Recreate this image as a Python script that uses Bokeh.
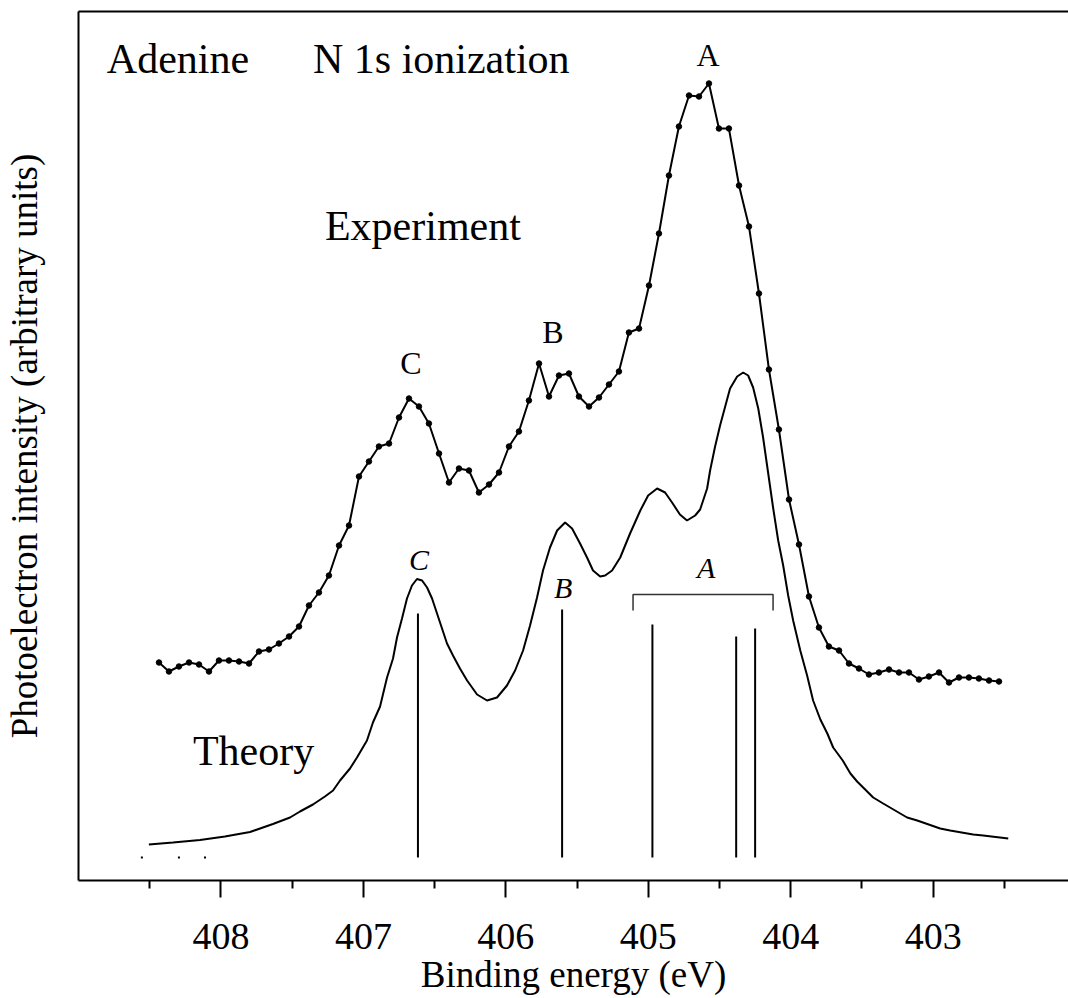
from bokeh.plotting import figure
from bokeh.models import Range1d, FixedTicker, Label, LinearAxis
from bokeh.embed import file_html
from bokeh.resources import INLINE

# ---------------- data ----------------
exp_energy = [408.435, 408.365, 408.295, 408.224, 408.154, 408.084, 408.014, 407.944, 407.873, 407.803,
              407.733, 407.663, 407.593, 407.522, 407.452, 407.382, 407.312, 407.242, 407.171, 407.101,
              407.031, 406.961, 406.891, 406.820, 406.750, 406.680, 406.610, 406.540, 406.469, 406.399,
              406.329, 406.259, 406.189, 406.118, 406.048, 405.978, 405.908, 405.838, 405.767, 405.697,
              405.627, 405.557, 405.487, 405.416, 405.346, 405.276, 405.206, 405.136, 405.065, 404.995,
              404.925, 404.855, 404.785, 404.714, 404.644, 404.574, 404.504, 404.434, 404.363, 404.293,
              404.223, 404.153, 404.083, 404.012, 403.942, 403.872, 403.802, 403.732, 403.661, 403.591,
              403.521, 403.451, 403.381, 403.310, 403.240, 403.170, 403.100, 403.030, 402.959, 402.889,
              402.819, 402.749, 402.679, 402.608, 402.538]
exp_intensity = [2.18, 2.09, 2.14, 2.18, 2.16, 2.09, 2.20, 2.20, 2.19, 2.17,
                 2.29, 2.31, 2.37, 2.44, 2.54, 2.75, 2.88, 3.05, 3.35, 3.55,
                 4.04, 4.19, 4.34, 4.37, 4.63, 4.82, 4.74, 4.57, 4.27, 3.98,
                 4.12, 4.10, 3.88, 3.96, 4.08, 4.34, 4.49, 4.80, 5.17, 4.84,
                 5.05, 5.07, 4.84, 4.74, 4.83, 4.96, 5.09, 5.48, 5.52, 5.95,
                 6.47, 7.05, 7.54, 7.85, 7.84, 7.97, 7.52, 7.52, 6.95, 6.54,
                 5.87, 5.11, 4.51, 3.81, 3.36, 2.84, 2.53, 2.34, 2.30, 2.17,
                 2.12, 2.06, 2.08, 2.11, 2.08, 2.08, 2.01, 2.04, 2.08, 1.98,
                 2.03, 2.03, 2.02, 2.00, 1.99]

theory_energy = [408.506, 408.337, 408.147, 407.972, 407.796, 407.635, 407.515, 407.445, 407.354, 407.270,
                 407.213, 407.164, 407.094, 407.045, 406.975, 406.933, 406.883, 406.834, 406.792, 406.764,
                 406.729, 406.694, 406.659, 406.624, 406.588, 406.553, 406.518, 406.483, 406.448, 406.413,
                 406.371, 406.322, 406.272, 406.202, 406.132, 406.062, 405.992, 405.935, 405.879, 405.830,
                 405.781, 405.739, 405.690, 405.640, 405.584, 405.535, 405.479, 405.430, 405.388, 405.338,
                 405.303, 405.254, 405.197, 405.128, 405.056, 405.001, 404.938, 404.882, 404.833, 404.778,
                 404.728, 404.671, 404.636, 404.587, 404.566, 404.531, 404.496, 404.426, 404.376, 404.334,
                 404.299, 404.264, 404.228, 404.194, 404.159, 404.124, 404.088, 404.053, 404.018, 403.983,
                 403.933, 403.885, 403.843, 403.792, 403.743, 403.702, 403.635, 403.581, 403.534, 403.421,
                 403.351, 403.183, 403.112, 402.951, 402.881, 402.719, 402.649, 402.473]
theory_intensity = [0.36, 0.38, 0.405, 0.44, 0.485, 0.565, 0.63, 0.69, 0.76, 0.84,
                    0.90, 1.00, 1.12, 1.23, 1.40, 1.58, 1.74, 2.03, 2.22, 2.43,
                    2.62, 2.82, 2.95, 3.015, 3.00, 2.93, 2.82, 2.67, 2.52, 2.37,
                    2.25, 2.12, 2.00, 1.86, 1.80, 1.83, 1.95, 2.10, 2.30, 2.55,
                    2.83, 3.10, 3.33, 3.50, 3.58, 3.52, 3.37, 3.23, 3.10, 3.04,
                    3.05, 3.10, 3.23, 3.47, 3.70, 3.85, 3.92, 3.88, 3.78, 3.66,
                    3.60, 3.65, 3.71, 3.92, 4.10, 4.34, 4.55, 4.92, 5.04, 5.08,
                    5.05, 4.93, 4.72, 4.43, 4.08, 3.73, 3.40, 3.15, 2.85, 2.60,
                    2.30, 2.05, 1.80, 1.61, 1.47, 1.33, 1.20, 1.07, 0.99, 0.83,
                    0.77, 0.63, 0.60, 0.52, 0.50, 0.46, 0.45, 0.42]

stick_energy = [406.617, 405.605, 404.971, 404.383, 404.250]
stick_height = [2.67, 2.71, 2.56, 2.44, 2.52]
stick_base = 0.23

bracket_energy = [405.107, 404.124]
bracket_level = 2.86
bracket_tip = 2.70

speck_energy = [408.555, 408.295, 408.112]
speck_level = [0.23, 0.23, 0.23]

major_ticks = [408, 407, 406, 405, 404, 403]
minor_ticks = [408.5, 407.5, 406.5, 405.5, 404.5, 403.5, 402.5]

# ---------------- figure ----------------
FONT = "Liberation Serif"

p = figure(width=1068, height=998,
           x_range=Range1d(409.0, 402.05), y_range=Range1d(0, 8.69),
           output_backend="svg", toolbar_location=None,
           min_border_left=78, min_border_right=0, min_border_top=11, min_border_bottom=118)
p.background_fill_color = "white"
p.border_fill_color = "white"
p.xgrid.visible = False
p.ygrid.visible = False
p.outline_line_color = None

xa = p.xaxis[0]
xa.ticker = FixedTicker(ticks=major_ticks, minor_ticks=minor_ticks)
xa.axis_line_width = 2
xa.axis_line_color = "black"
xa.major_tick_line_width = 2
xa.minor_tick_line_width = 2
xa.major_tick_in = 0
xa.major_tick_out = 17
xa.minor_tick_in = 0
xa.minor_tick_out = 8
xa.major_label_text_font = FONT
xa.major_label_text_font_size = "38px"
xa.major_label_text_color = "black"
xa.major_label_standoff = 26
xa.axis_label = "Binding energy (eV)"
xa.axis_label_text_font = FONT
xa.axis_label_text_font_size = "37px"
xa.axis_label_text_font_style = "normal"
xa.axis_label_text_color = "black"
xa.axis_label_standoff = 2

ya = p.yaxis[0]
ya.ticker = FixedTicker(ticks=[])
ya.major_tick_out = 0
ya.major_tick_in = 0
ya.minor_tick_out = 0
ya.minor_tick_in = 0
ya.major_label_standoff = 0
ya.axis_line_width = 2
ya.axis_line_color = "black"
ya.axis_label = "Photoelectron intensity (arbitrary units)"
ya.axis_label_text_font = FONT
ya.axis_label_text_font_size = "37px"
ya.axis_label_text_font_style = "normal"
ya.axis_label_text_color = "black"
ya.axis_label_standoff = 34

# top frame line (no right frame line, as in the reference crop)
top = LinearAxis(ticker=FixedTicker(ticks=[]), major_tick_out=0, major_tick_in=0,
                 minor_tick_out=0, minor_tick_in=0, major_label_standoff=0,
                 axis_line_width=2, axis_line_color="black")
p.add_layout(top, "above")

# experiment
p.line(exp_energy, exp_intensity, line_color="black", line_width=2)
p.scatter(exp_energy, exp_intensity, size=5.5, fill_color="black", line_color="black")

# theory curve
p.line(theory_energy, theory_intensity, line_color="black", line_width=2)

# stick spectrum
p.segment(x0=stick_energy, y0=[stick_base] * len(stick_energy),
          x1=stick_energy, y1=stick_height, line_color="black", line_width=2)

# bracket over A group
p.line([bracket_energy[0], bracket_energy[0], bracket_energy[1], bracket_energy[1]],
       [bracket_tip, bracket_level, bracket_level, bracket_tip],
       line_color="#333333", line_width=1.5)

# tiny specks
p.scatter(speck_energy, speck_level, size=2, marker="square", fill_color="black", line_color=None)

def lab(x, y, text, size, style="normal", align="left"):
    p.add_layout(Label(x=x, y=y, text=text, text_font=FONT, text_font_size=size,
                       text_font_style=style, text_align=align, text_baseline="alphabetic",
                       text_color="black"))

lab(408.801, 8.22, "Adenine", "42px")
lab(407.354, 8.22, "N 1s ionization", "42px")
lab(407.270, 6.55, "Experiment", "42px")
lab(408.197, 1.30, "Theory", "42px")
lab(404.580, 8.26, "A", "32px", align="center")
lab(405.669, 5.49, "B", "32px", align="center")
lab(406.666, 5.18, "C", "32px", align="center")
lab(406.610, 3.21, "C", "30px", style="italic", align="center")
lab(405.598, 2.93, "B", "30px", style="italic", align="center")
lab(404.594, 3.13, "A", "30px", style="italic", align="center")

open("out.html", "w").write(file_html(p, INLINE))
